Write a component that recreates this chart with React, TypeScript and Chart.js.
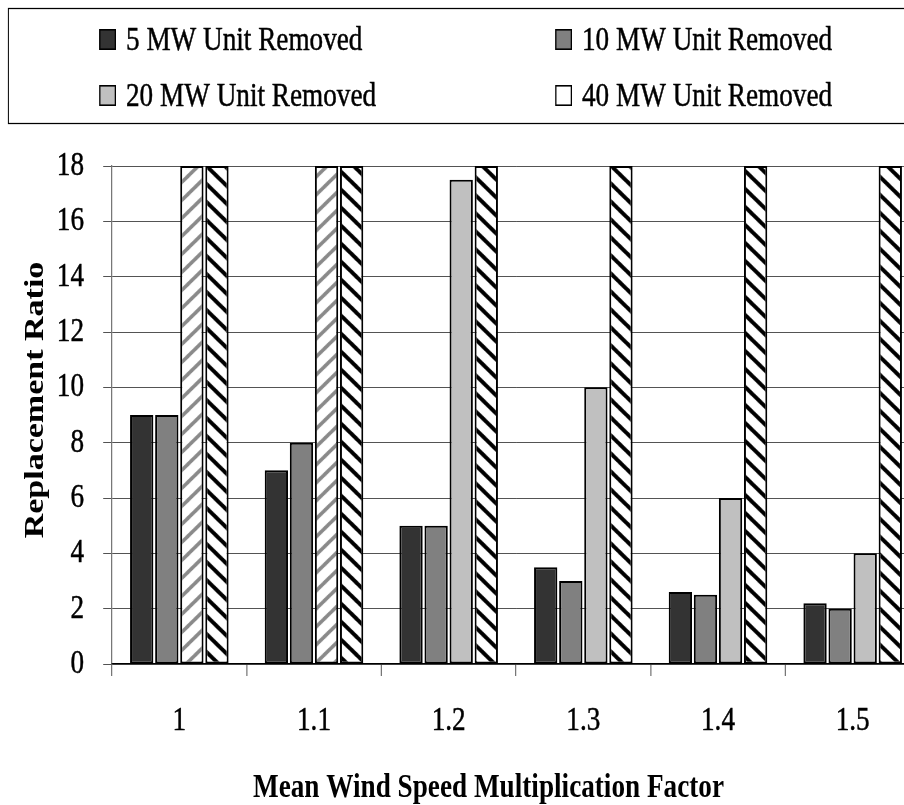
import React, { useEffect, useRef } from 'react';
import { Chart, registerables } from 'chart.js';

Chart.register(...registerables);

// ---------- data ----------
const categories = ['1', '1.1', '1.2', '1.3', '1.4', '1.5'];
const seriesLabels = [
  '5 MW Unit Removed',
  '10 MW Unit Removed',
  '20 MW Unit Removed',
  '40 MW Unit Removed',
];
const mw5 = [9, 7, 5, 3.5, 2.6, 2.2];
const mw10 = [9, 8, 5, 3, 2.5, 2];
const mw20 = [18, 18, 17.5, 10, 6, 4];
const mw40 = [18, 18, 18, 18, 18, 18];
// bars that run off the top of the scale (drawn hatched)
const mw20OffScale = [true, true, false, false, false, false];
const yMin = 0;
const yMax = 18;
const yStep = 2;
const xTitle = 'Mean Wind Speed Multiplication Factor';
const yTitle = 'Replacement Ratio';

// ---------- styling ----------
const SX = 0.8; // horizontal condensation of the whole drawing
const CW = 1160;
const CH = 805;
const FAMILY = '"Liberation Serif", "Times New Roman", serif';
const swatchColors = ['#333333', '#808080', '#c0c0c0', '#ffffff'];

function makeHatch(ctx: CanvasRenderingContext2D, color: string, dir: 'back' | 'fwd', lw: number) {
  const W = 23;
  const H = 18;
  const c = document.createElement('canvas');
  c.width = W;
  c.height = H;
  const g = c.getContext('2d')!;
  g.fillStyle = '#ffffff';
  g.fillRect(0, 0, W, H);
  g.strokeStyle = color;
  g.lineWidth = lw;
  for (const k of [-1, 0, 1]) {
    g.beginPath();
    if (dir === 'back') {
      g.moveTo(-2, k * H - (2 * H) / W);
      g.lineTo(W + 2, k * H + H + (2 * H) / W);
    } else {
      g.moveTo(-2, H + k * H + (2 * H) / W);
      g.lineTo(W + 2, k * H - (2 * H) / W);
    }
    g.stroke();
  }
  return ctx.createPattern(c, 'repeat')!;
}

export default function App() {
  const ref = useRef<HTMLCanvasElement>(null);

  useEffect(() => {
    const canvas = ref.current!;
    const ctx = canvas.getContext('2d')!;
    const blackHatch = makeHatch(ctx, '#000000', 'back', 4.4);
    const grayHatch = makeHatch(ctx, '#8a8a8a', 'fwd', 4);

    const tickFont = { family: FAMILY, size: 34 };

    const condensePlugin = {
      id: 'condense',
      beforeDraw(chart: any) {
        const c = chart.ctx;
        c.save();
        c.fillStyle = '#ffffff';
        c.fillRect(0, 0, chart.width, chart.height);
        c.scale(SX, 1);
      },
      afterDraw(chart: any) {
        const c = chart.ctx;
        // legend box
        c.save();
        c.strokeStyle = '#000000';
        c.lineWidth = 1.25;
        c.strokeRect(10.5, 8.5, CW, 115);
        c.restore();

        const cols = [124, 694];
        const rows = [29, 85];
        const textDx = 33.5;
        chart.data.datasets.forEach((ds: any, i: number) => {
          const x = cols[i % 2];
          const y = rows[Math.floor(i / 2)];
          c.save();
          c.fillStyle = ds.legendColor;
          c.fillRect(x, y, 21, 21);
          c.strokeStyle = '#000000';
          c.lineWidth = 1.6;
          c.strokeRect(x + 0.8, y + 0.8, 19.4, 19.4);
          c.fillStyle = '#000000';
          c.font = `34px ${FAMILY}`;
          c.textAlign = 'left';
          c.textBaseline = 'alphabetic';
          c.lineWidth = 0.5;
          c.strokeText(ds.label, x + textDx, y + 21);
          c.fillText(ds.label, x + textDx, y + 21);
          c.restore();
        });

        // axis titles
        c.save();
        c.fillStyle = '#000000';
        c.font = `bold 34px ${FAMILY}`;
        c.textAlign = 'center';
        c.textBaseline = 'alphabetic';
        c.fillText(xTitle, 610.6, 797);
        c.translate(53.75, 400);
        c.rotate(-Math.PI / 2);
        c.fillText(yTitle, 0, 0);
        c.restore();

        c.restore();
      },
    };

    const common = {
      borderColor: '#000000',
      borderWidth: { top: 2, bottom: 2, left: 2.5, right: 2.5 },
      borderSkipped: false,
      categoryPercentage: 0.745,
      barPercentage: 0.93,
    };

    const chart = new Chart(canvas, {
      type: 'bar',
      data: {
        labels: categories,
        datasets: [
          { ...common, label: seriesLabels[0], data: mw5, backgroundColor: swatchColors[0], legendColor: swatchColors[0] } as any,
          { ...common, label: seriesLabels[1], data: mw10, backgroundColor: swatchColors[1], legendColor: swatchColors[1] } as any,
          {
            ...common,
            label: seriesLabels[2],
            data: mw20,
            backgroundColor: mw20OffScale.map((off) => (off ? grayHatch : swatchColors[2])),
            legendColor: swatchColors[2],
          } as any,
          { ...common, label: seriesLabels[3], data: mw40, backgroundColor: blackHatch, legendColor: swatchColors[3] } as any,
        ],
      },
      options: {
        responsive: false,
        animation: false,
        events: [],
        layout: { padding: { top: 166, right: 10, bottom: 0, left: 0 } },
        plugins: {
          legend: { display: false },
          tooltip: { enabled: false },
          title: { display: false },
        },
        scales: {
          x: {
            grid: {
              display: true,
              drawOnChartArea: false,
              drawTicks: true,
              tickLength: 12,
              color: '#555555',
              lineWidth: 1.25,
            },
            border: { display: true, color: '#000000', width: 1.2 },
            ticks: {
              font: tickFont,
              color: '#000000',
              textStrokeColor: '#000000',
              textStrokeWidth: 0.5,
              padding: 25,
              maxRotation: 0,
              autoSkip: false,
            },
            afterFit: (s: any) => {
              s.height = 141;
            },
          },
          y: {
            min: yMin,
            max: yMax,
            grid: {
              color: '#404040',
              lineWidth: 1,
              drawTicks: true,
              tickLength: 11,
            },
            border: { display: true, color: '#555555', width: 1.25 },
            ticks: {
              stepSize: yStep,
              font: tickFont,
              color: '#000000',
              textStrokeColor: '#000000',
              textStrokeWidth: 0.5,
              padding: 24,
            },
            afterFit: (s: any) => {
              s.width = 140;
            },
          },
        },
      },
      plugins: [condensePlugin],
    });

    return () => chart.destroy();
  }, []);

  return (
    <div
      style={{
        position: 'absolute',
        left: 0,
        top: 0,
        width: 904,
        height: 805,
        overflow: 'hidden',
        background: '#ffffff',
      }}
    >
      <canvas ref={ref} width={CW} height={CH} style={{ display: 'block' }} />
    </div>
  );
}
